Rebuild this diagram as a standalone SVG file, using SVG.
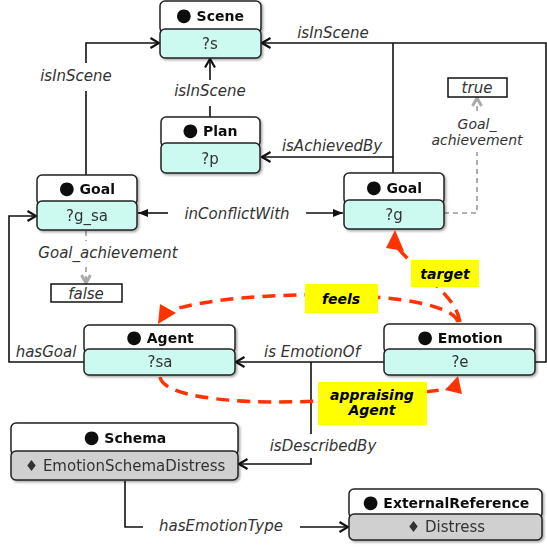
<svg xmlns="http://www.w3.org/2000/svg" width="547" height="550" viewBox="0 0 547 550">
<defs>
<style>
.hd{fill:#fff;stroke:#222;stroke-width:1.5}
.bc{fill:#ccfaf0;stroke:#222;stroke-width:1.5}
.bg{fill:#d0d0d0;stroke:#222;stroke-width:1.5}
.ht{font-family:"DejaVu Sans",sans-serif;font-weight:bold;font-size:14px;text-anchor:middle;fill:#111}
.bu{font-size:18px}
.vt{font-family:"DejaVu Sans",sans-serif;font-size:15px;text-anchor:middle;fill:#333}
.lt{font-family:"DejaVu Sans",sans-serif;font-style:italic;font-size:15px;text-anchor:middle;fill:#333}
.ls{font-size:14px}
.yt{font-family:"DejaVu Sans",sans-serif;font-style:italic;font-weight:bold;font-size:14px;text-anchor:middle;fill:#000}
.ln{fill:none;stroke:#111;stroke-width:1.6}
.gd{fill:none;stroke:#999;stroke-width:1.6;stroke-dasharray:5 4}
.rd{fill:none;stroke:#ff3300;stroke-width:3.5;stroke-dasharray:13 8}
.ra{fill:#ff3300}
.yl{fill:#ffff00}
.wb{fill:#fff}
</style>
<filter id="sh" x="-10%" y="-10%" width="130%" height="140%">
<feDropShadow dx="1.5" dy="1.5" stdDeviation="1" flood-color="#000" flood-opacity="0.35"/>
</filter>
<marker id="ar" viewBox="0 0 12 12" refX="10.5" refY="6" markerWidth="12" markerHeight="12" markerUnits="userSpaceOnUse" orient="auto">
<path d="M2,1 L10.5,6 L2,11" fill="none" stroke="#111" stroke-width="2.2"/>
</marker>
<marker id="af" viewBox="0 0 10 10" refX="10" refY="5" markerWidth="10" markerHeight="10" markerUnits="userSpaceOnUse" orient="auto">
<path d="M0,1 L10,5 L0,9 Z" fill="#111"/>
</marker>
<marker id="ag" viewBox="0 0 12 12" refX="10" refY="6" markerWidth="12" markerHeight="12" markerUnits="userSpaceOnUse" orient="auto">
<path d="M2,1.5 L10,6 L2,10.5" fill="none" stroke="#aaa" stroke-width="3"/>
</marker>
</defs>
<rect width="547" height="550" fill="#fff"/>

<g id="connectors">
<path class="ln" d="M210,117 V59" marker-end="url(#ar)"/>
<rect class="wb" x="170" y="80" width="80" height="26"/>
<text class="lt" x="210" y="96">isInScene</text>

<path class="ln" d="M86,175 V43 H159" marker-end="url(#ar)"/>
<rect class="wb" x="38" y="63" width="78" height="28"/>
<text class="lt" x="76" y="81">isInScene</text>

<path class="ln" d="M535,362 H546 V43 H262" marker-end="url(#ar)"/>
<text class="lt" x="333" y="38">isInScene</text>

<path class="ln" d="M393,43 V173"/>
<path class="ln" d="M393,157 H262" marker-end="url(#ar)"/>
<text class="lt" x="332" y="151">isAchievedBy</text>

<path class="ln" d="M168,213 H138" marker-end="url(#af)"/>
<path class="ln" d="M306,213 H343" marker-end="url(#af)"/>
<text class="lt" x="237" y="219">inConflictWith</text>

<path class="ln" d="M84,362 H9 V216 H36" marker-end="url(#ar)"/>
<text class="lt" x="46" y="357">hasGoal</text>

<path class="ln" d="M384,362 H236" marker-end="url(#ar)"/>
<text class="lt" x="312" y="357">is EmotionOf</text>

<path class="ln" d="M311,362 V464 H239" marker-end="url(#ar)"/>
<rect class="wb" x="268" y="434" width="110" height="24"/>
<text class="lt" x="323" y="451">isDescribedBy</text>

<path class="ln" d="M125,481 V527 H348" marker-end="url(#ar)"/>
<rect class="wb" x="143" y="515" width="157" height="24"/>
<text class="lt" x="221" y="531">hasEmotionType</text>

<path class="gd" d="M86,231 V283" marker-end="url(#ag)"/>
<rect class="wb" x="30" y="241" width="158" height="22"/>
<text class="lt" x="108" y="258">Goal_achievement</text>

<path class="gd" d="M444,213 H477 V98" marker-end="url(#ag)"/>
<rect class="wb" x="432" y="114" width="90" height="38"/>
<text class="lt ls" x="477" y="129">Goal_</text>
<text class="lt ls" x="477" y="145">achievement</text>
</g>

<g id="true">
<rect x="448" y="78" width="59" height="19" fill="#fff" stroke="#111" stroke-width="1.5"/>
<text class="lt" x="477" y="93">true</text>
</g>
<g id="false">
<rect x="51" y="284" width="71" height="18" fill="#fff" stroke="#111" stroke-width="1.5"/>
<text class="lt" x="86" y="299">false</text>
</g>

<g id="scene" filter="url(#sh)">
<rect class="hd" x="160" y="1" width="101" height="32" rx="5"/>
<rect class="bc" x="160" y="29" width="101" height="29" rx="5"/>
<text class="ht" x="210" y="21"><tspan class="bu">●</tspan> Scene</text>
<text class="vt" x="210" y="49">?s</text>
</g>

<g id="plan" filter="url(#sh)">
<rect class="hd" x="161" y="117" width="99" height="30" rx="5"/>
<rect class="bc" x="161" y="143" width="99" height="30" rx="5"/>
<text class="ht" x="210" y="136"><tspan class="bu">●</tspan> Plan</text>
<text class="vt" x="210" y="164">?p</text>
</g>

<g id="goal_sa" filter="url(#sh)">
<rect class="hd" x="37" y="175" width="100" height="30" rx="5"/>
<rect class="bc" x="37" y="201" width="100" height="29" rx="5"/>
<text class="ht" x="87" y="194"><tspan class="bu">●</tspan> Goal</text>
<text class="vt" x="87" y="221">?g_sa</text>
</g>

<g id="goal_g" filter="url(#sh)">
<rect class="hd" x="344" y="173" width="100" height="31" rx="5"/>
<rect class="bc" x="344" y="200" width="100" height="29" rx="5"/>
<text class="ht" x="394" y="193"><tspan class="bu">●</tspan> Goal</text>
<text class="vt" x="394" y="220">?g</text>
</g>

<g id="agent" filter="url(#sh)">
<rect class="hd" x="84" y="325" width="151" height="28" rx="5"/>
<rect class="bc" x="84" y="349" width="151" height="26" rx="5"/>
<text class="ht" x="160" y="343"><tspan class="bu">●</tspan> Agent</text>
<text class="vt" x="160" y="367">?sa</text>
</g>

<g id="emotion" filter="url(#sh)">
<rect class="hd" x="384" y="324" width="151" height="29" rx="5"/>
<rect class="bc" x="384" y="349" width="151" height="26" rx="5"/>
<text class="ht" x="460" y="343"><tspan class="bu">●</tspan> Emotion</text>
<text class="vt" x="460" y="367">?e</text>
</g>

<g id="schema" filter="url(#sh)">
<rect class="hd" x="11" y="423" width="227" height="32" rx="5"/>
<rect class="bg" x="11" y="451" width="227" height="29" rx="5"/>
<text class="ht" x="125" y="443"><tspan class="bu">●</tspan> Schema</text>
<text class="vt" x="125" y="471">♦ EmotionSchemaDistress</text>
</g>

<g id="externalreference" filter="url(#sh)">
<rect class="hd" x="349" y="489" width="193" height="29" rx="5"/>
<rect class="bg" x="349" y="514" width="193" height="26" rx="5"/>
<text class="ht" x="446" y="508"><tspan class="bu">●</tspan> ExternalReference</text>
<text class="vt" x="446" y="532">♦ Distress</text>
</g>

<g id="feels">
<path class="rd" d="M458,322 C448,288 240,288 172,310"/>
<polygon class="ra" points="158,324 160,304 176,313"/>
<rect class="yl" x="305" y="284" width="73" height="29"/>
<text class="yt" x="341" y="304">feels</text>
</g>

<g id="target">
<path class="rd" d="M460,322 C456,295 420,275 398,248"/>
<polygon class="ra" points="395,230 386,248 404,251"/>
<rect class="yl" x="411" y="260" width="68" height="27"/>
<text class="yt" x="445" y="279">target</text>
</g>

<g id="appraisingAgent">
<path class="rd" d="M160,377 C165,405 300,410 447,389"/>
<polygon class="ra" points="458,376 445,390 462,394"/>
<rect class="yl" x="318" y="382" width="109" height="43"/>
<text class="yt" x="372" y="400">appraising</text>
<text class="yt" x="372" y="415">Agent</text>
</g>
</svg>
